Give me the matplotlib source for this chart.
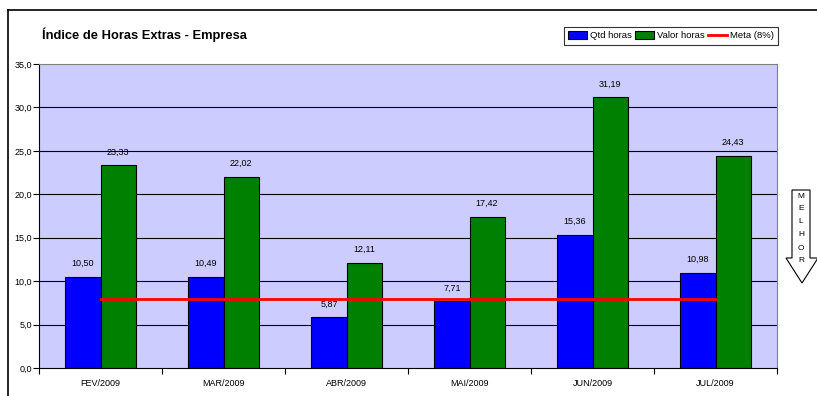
import matplotlib
matplotlib.use("Agg")
import matplotlib.pyplot as plt
import numpy as np
from matplotlib.patches import Rectangle, Polygon
from matplotlib.lines import Line2D

categories = ["FEV/2009", "MAR/2009", "ABR/2009", "MAI/2009", "JUN/2009", "JUL/2009"]
qtd_horas = [10.50, 10.49, 5.87, 7.71, 15.36, 10.98]
valor_horas = [23.33, 22.02, 12.11, 17.42, 31.19, 24.43]
meta = [8, 8, 8, 8, 8, 8]
yticks = [0, 5, 10, 15, 20, 25, 30, 35]

plt.rcParams['font.family'] = ['Liberation Sans', 'DejaVu Sans']

W, H = 817, 396
fig = plt.figure(figsize=(W/100, H/100), dpi=100)
fig.patch.set_facecolor('white')

def fx(px): return px / W
def fy(py): return 1 - py / H

# outer frame (left and top visible)
fig.add_artist(Line2D([fx(8), fx(8)], [fy(10), fy(400)], color='black', lw=1.2))
fig.add_artist(Line2D([fx(8), fx(820)], [fy(10), fy(10)], color='black', lw=1.2))

ax = fig.add_axes([fx(39), fy(368), fx(777) - fx(39), fy(64) - fy(368)])
ax.set_facecolor('#CCCCFF')
n = len(categories)
x = np.arange(n)
bw = 0.285
ax.set_xlim(-0.5, n - 0.5)
ax.set_ylim(0, 35)
for v in yticks[1:-1]:
    ax.axhline(v, color='black', lw=0.8, zorder=1)
ax.bar(x - bw/2, qtd_horas, bw, color='#0000FF', edgecolor='black', lw=0.8, zorder=2)
ax.bar(x + bw/2, valor_horas, bw, color='#008000', edgecolor='black', lw=0.8, zorder=2)
ax.plot(x, meta, color='#FF0000', lw=2, zorder=3)

fmt = lambda v: f"{v:.2f}".replace('.', ',')
for xi, v in zip(x, qtd_horas):
    ax.text(xi - bw/2, v + 1.0, fmt(v), ha='center', va='bottom', fontsize=6.5)
for xi, v in zip(x, valor_horas):
    ax.text(xi + bw/2, v + 1.0, fmt(v), ha='center', va='bottom', fontsize=6.5)

ax.set_yticks(yticks)
ax.set_yticklabels([f"{v:.1f}".replace('.', ',') for v in yticks], fontsize=6.5)
ax.set_xticks(x)
ax.set_xticklabels(categories, fontsize=6.5)
ax.tick_params(axis='x', length=0, pad=8)
ax.tick_params(axis='y', length=4, width=0.8, pad=1, direction='out')
ax.set_xticks(np.arange(-0.5, n, 1.0), minor=True)
ax.tick_params(axis='x', which='minor', length=4, width=0.8, direction='out')
for s in ['top', 'right']:
    ax.spines[s].set_color('#808080')
    ax.spines[s].set_linewidth(0.8)
for s in ['left', 'bottom']:
    ax.spines[s].set_color('black')
    ax.spines[s].set_linewidth(0.8)

fig.text(fx(42), fy(35), "Índice de Horas Extras - Empresa", fontsize=9.3,
         fontweight='bold', ha='left', va='center')

handles = [Rectangle((0, 0), 1, 1, facecolor='#0000FF', edgecolor='black', lw=0.8),
           Rectangle((0, 0), 1, 1, facecolor='#008000', edgecolor='black', lw=0.8),
           Line2D([0], [0], color='#FF0000', lw=2)]
leg = fig.legend(handles, ["Qtd horas", "Valor horas", "Meta (8%)"], ncol=3,
                 loc='upper right', bbox_to_anchor=(fx(778), fy(27)), fontsize=6.8,
                 frameon=True, fancybox=False, edgecolor='black', handlelength=2.0,
                 handleheight=0.9, handletextpad=0.3, columnspacing=0.35,
                 borderpad=0.45, borderaxespad=0)
leg.get_frame().set_linewidth(0.8)

# "MELHOR" arrow
pts = [(792, 190), (810, 190), (810, 258), (818, 258), (802, 283), (786, 258), (792, 258)]
fig.add_artist(Polygon([(fx(a), fy(b)) for a, b in pts], closed=True,
                       facecolor='white', edgecolor='black', lw=0.8))
for i, ch in enumerate("MELHOR"):
    fig.text(fx(801), fy(196 + i * 13), ch, fontsize=6, ha='center', va='center')

fig.savefig("out.png", dpi=100)
